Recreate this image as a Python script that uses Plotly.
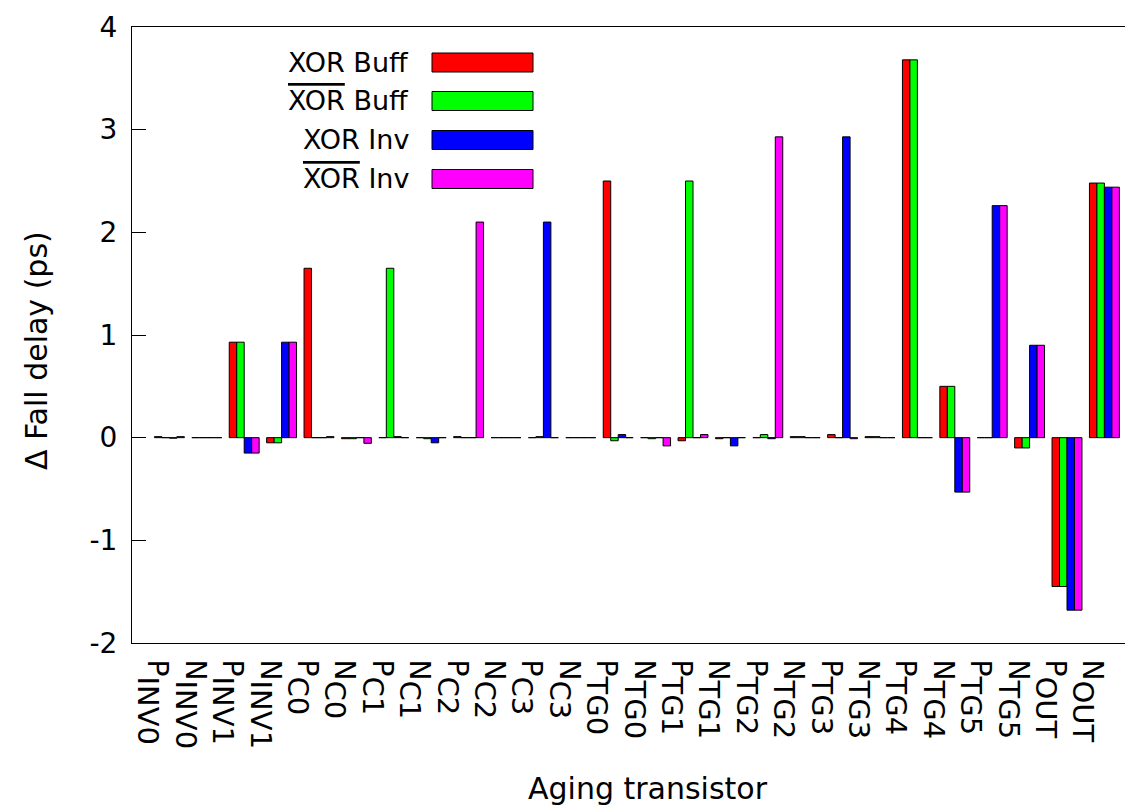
import plotly.graph_objects as go

# transistores en el eje x
prefijos = ["P", "N"] * 13
subindices = ["INV0", "INV0", "INV1", "INV1", "C0", "C0", "C1", "C1", "C2", "C2", "C3", "C3",
              "TG0", "TG0", "TG1", "TG1", "TG2", "TG2", "TG3", "TG3", "TG4", "TG4",
              "TG5", "TG5", "OUT", "OUT"]

xor_buff = [0.01, 0.0, 0.93, -0.05, 1.65, -0.01, 0.0, 0.0, 0.01, 0.0, 0.0, 0.0, 2.50,
            0.0, -0.03, -0.01, 0.0, 0.01, 0.03, 0.01, 3.68, 0.50, 0.0, -0.10, -1.45, 2.48]
xnor_buff = [0.0, 0.0, 0.93, -0.05, 0.0, -0.01, 1.65, -0.01, 0.0, 0.0, 0.01, 0.0, -0.03,
             -0.01, 2.50, 0.0, 0.03, 0.01, 0.0, 0.01, 3.68, 0.50, 0.0, -0.10, -1.45, 2.48]
xor_inv = [-0.005, 0.0, -0.15, 0.93, 0.0, 0.0, 0.01, -0.05, 0.0, 0.0, 2.10, 0.0, 0.03,
           0.0, 0.0, -0.08, -0.01, 0.0, 2.93, 0.0, 0.0, -0.53, 2.26, 0.90, -1.68, 2.44]
xnor_inv = [0.01, 0.0, -0.15, 0.93, 0.01, -0.055, 0.0, 0.0, 2.10, 0.0, 0.0, 0.0, 0.0,
            -0.08, 0.03, 0.0, 2.93, 0.0, -0.01, 0.0, 0.0, -0.53, 2.26, 0.90, -1.68, 2.44]

y_ticks = [-2, -1, 0, 1, 2, 3, 4]
y_tick_text = ["-2", "-1", "0", "1", "2", "3", "4"]

OVER = "<span style='text-decoration:overline'>XOR</span>"
series = [
    ("XOR Buff", xor_buff, "#FF0000"),
    (OVER + " Buff", xnor_buff, "#00FF00"),
    ("XOR Inv", xor_inv, "#0000FF"),
    (OVER + " Inv", xnor_inv, "#FF00FF"),
]

FONT = "DejaVu Sans"
W, H = 1133, 805
L, R, T, B = 124, 0, 19, 170
ancho = W - L - R
alto = H - T - B


def px_x(x):
    return (x - L) / ancho


def px_y(y):
    return (H - B - y) / alto


# subindice con doble <sub> para bajarlo más, pero a tamaño casi normal
etiquetas = [f"{p}<sub><sub><span style='font-size:29px'>{s}</span></sub></sub>"
             for p, s in zip(prefijos, subindices)]
categorias = [p + s for p, s in zip(prefijos, subindices)]

fig = go.Figure()
for nombre, valores, color in series:
    fig.add_trace(go.Bar(
        x=categorias, y=valores, name=nombre,
        marker=dict(color=color, line=dict(color="black", width=1)),
    ))

# leyenda manual: texto a la izquierda, muestra a la derecha
filas_y = [54.5, 93, 132, 171]
for (nombre, _, color), fy in zip(series, filas_y):
    fig.add_annotation(
        xref="paper", yref="paper", x=px_x(403), y=px_y(fy),
        text=nombre, showarrow=False, xanchor="right", yanchor="middle",
        font=dict(family=FONT, size=27, color="black"),
    )
    fig.add_shape(
        type="rect", xref="paper", yref="paper",
        x0=px_x(424), x1=px_x(525), y0=px_y(fy + 9.5), y1=px_y(fy - 9.5),
        fillcolor=color, line=dict(color="black", width=1),
    )

# titulos de los ejes
fig.add_annotation(
    xref="paper", yref="paper", x=px_x(640), y=px_y(780),
    text="Aging transistor", showarrow=False, xanchor="center", yanchor="middle",
    font=dict(family=FONT, size=30, color="black"),
)
fig.add_annotation(
    xref="paper", yref="paper", x=px_x(28), y=px_y(343),
    text="\u0394 Fall delay (ps)", showarrow=False, textangle=-90,
    xanchor="center", yanchor="middle",
    font=dict(family=FONT, size=30, color="black"),
)

# cada grupo ocupa 37.4 px; la caja original sale de la imagen por la derecha
x_fin = -1 + ancho / 37.4

fig.update_layout(
    width=W, height=H,
    margin=dict(l=L, r=R, t=T, b=B),
    barmode="group", bargap=0.2, bargroupgap=0,
    showlegend=False,
    plot_bgcolor="white", paper_bgcolor="white",
    font=dict(family=FONT, size=26, color="black"),
    xaxis=dict(
        range=[-1, x_fin], tickangle=90, ticks="",
        tickvals=categorias, ticktext=etiquetas,
        showline=True, mirror=True, linecolor="black", linewidth=1,
        showgrid=False, tickfont=dict(size=28),
        ticklabelstandoff=10, ticklabelshift=-12,
    ),
    yaxis=dict(
        range=[-2, 4], tickvals=y_ticks, ticktext=y_tick_text,
        ticks="inside", ticklen=14, tickcolor="black",
        showline=True, mirror=False, linecolor="black", linewidth=1,
        showgrid=False, zeroline=False, ticklabelstandoff=8,
        tickfont=dict(size=28),
    ),
    # marcas de la derecha sin línea de borde (el borde queda fuera de la imagen)
    yaxis2=dict(
        overlaying="y", side="right", anchor="x",
        range=[-2, 4], tickvals=y_ticks, showticklabels=False,
        ticks="inside", ticklen=8, tickcolor="black",
        showline=False, showgrid=False, zeroline=False,
    ),
)

fig.write_html("out.html")
